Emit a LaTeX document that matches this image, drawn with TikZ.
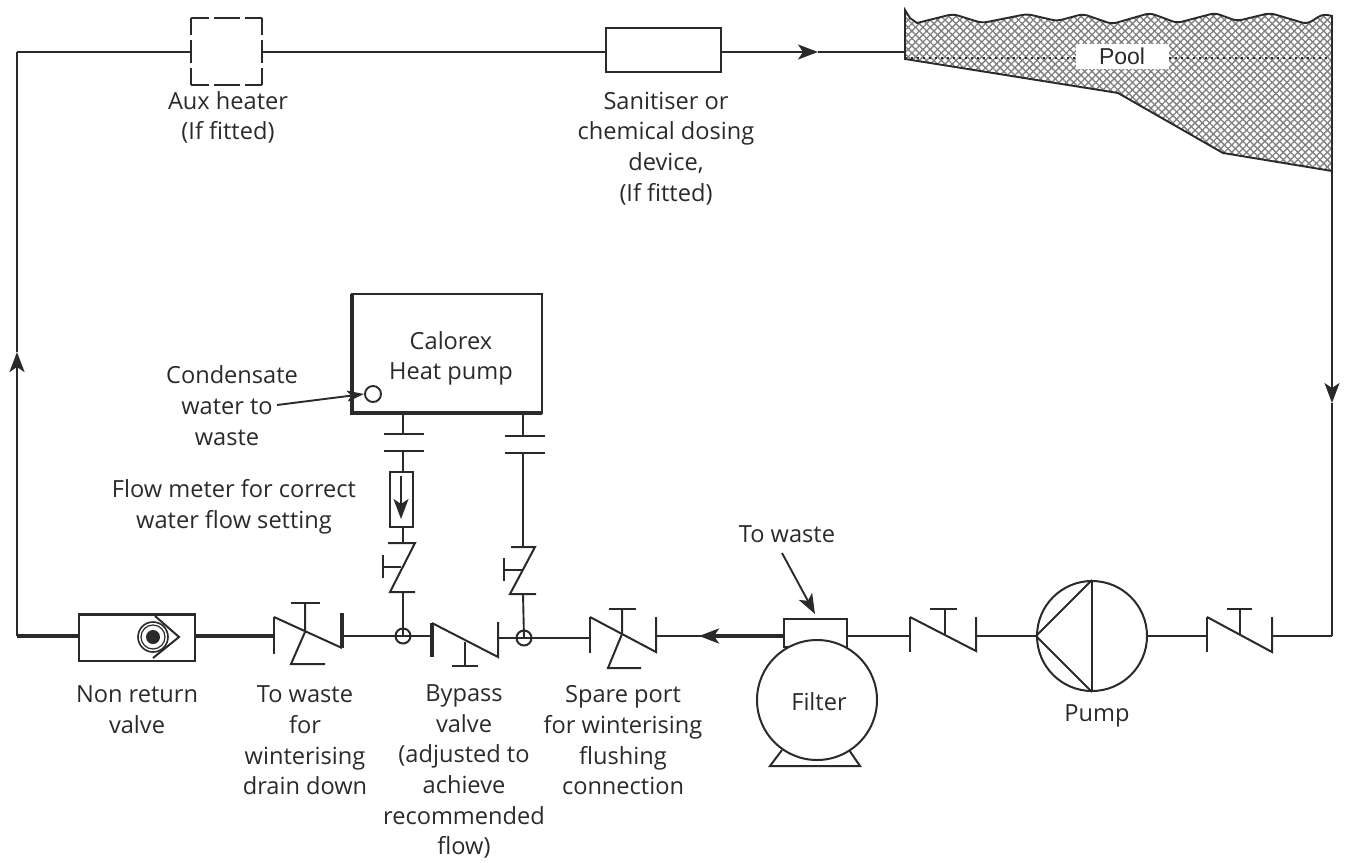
\documentclass[tikz,border=0pt]{standalone}
\usepackage{fontspec}
\setmainfont{Open Sans}
\newfontfamily\poolfont{Liberation Sans}
\usetikzlibrary{arrows.meta,patterns.meta}
\definecolor{ink}{HTML}{2a2a2a}
\tikzset{
  pipe/.style={draw=ink,line width=1.9pt},
  thickpipe/.style={draw=ink,line width=3.4pt},
  valve/.style={draw=ink,line width=2pt},
  heavy/.style={draw=ink,line width=3.2pt},
  label/.style={text=ink,align=center,inner sep=0pt,font=\fontsize{23.6}{30.7}\selectfont},
  flow/.style={-{Stealth[length=20pt,width=15pt,inset=5pt]}},
  joint/.style={circle,draw=ink,line width=2pt,minimum size=15pt,inner sep=0pt},
  boxnode/.style={draw=ink,line width=1.9pt,inner sep=0pt}
}
\begin{document}
\begin{tikzpicture}[x=1pt,y=-1pt,line join=miter]
\useasboundingbox (0,0) rectangle (1348,862);
% pool
\coordinate (poolL) at (905,52);
\coordinate (poolR) at (1332,171);
\def\poolwave{(905,10) -- (910,18) -- (917,23) [rounded corners=5pt] -- (953,14) -- (982,23) -- (1027,14) -- (1057,21) -- (1083,14) -- (1112,24) -- (1150,13) -- (1177,23) -- (1215,13) -- (1237,21) -- (1270,13) -- (1307,24) -- (1323,14) [sharp corners] -- (1332,16)}
\def\poolpath{\poolwave -- (1332,171) -- (1223,153) -- (1118,93) -- (905,59) -- cycle}
\fill[pattern={Lines[angle=45,distance=5.2pt,line width=1.35pt]},pattern color=black!50] \poolpath;
\fill[pattern={Lines[angle=-45,distance=5.2pt,line width=1.35pt]},pattern color=black!50] \poolpath;
\draw[draw=ink,line width=1.9pt] \poolpath;
\draw[ink,line width=2.2pt,dash pattern=on 2pt off 4pt] (905,58) -- (1332,58);
\node[fill=white,minimum width=93pt,minimum height=25pt,inner sep=0pt,font=\poolfont\fontsize{23}{25}\selectfont,text=ink] (pool) at (1122,56) {Pool};
% aux heater
\coordinate (auxL) at (191,52);
\coordinate (auxR) at (262,52);
\draw[valve,line width=2.4pt,dash pattern=on 18pt off 5pt on 26pt off 5pt on 18pt] (191,18) -- (262,18);
\draw[valve,line width=2.4pt,dash pattern=on 18pt off 5pt on 26pt off 5pt on 18pt] (191,85) -- (262,85);
\draw[valve,line width=2.4pt,dash pattern=on 17pt off 5pt on 23pt off 5pt on 17pt] (191,18) -- (191,85);
\draw[valve,line width=2.8pt,dash pattern=on 17pt off 5pt on 23pt off 5pt on 17pt] (262,18) -- (262,85);
% sanitiser
\node[boxnode,minimum width=115pt,minimum height=44pt] (san) at (663.5,50) {};
% heat pump
\node[boxnode,minimum width=190pt,minimum height=119pt,align=center] (hp) at (447,353.5) {};
\draw[heavy] (352,294) -- (352,413) -- (542,413);
\node[label] at (451,358.5) {Calorex\\Heat pump};
\node[circle,draw=ink,line width=1.9pt,minimum size=16pt,inner sep=0pt] (drain) at (373,394) {};
% top and left pipes
\coordinate (cL) at (17,636);
\coordinate (cT) at (17,52);
\coordinate (aL) at (17,352);
\coordinate (aT) at (818,52);
\coordinate (aR) at (1332,403);
\coordinate (cB) at (1332,636);
\draw[pipe,flow] (san.east |- aT) -- (aT);
\draw[pipe] (aT) -- (poolL);
\draw[pipe] (auxR) -- (san.west |- auxR);
\draw[pipe] (cT) -- (auxL);
\draw[thickpipe,line width=2.8pt] (cT) -- (aL);
\draw[thickpipe,line width=2.8pt,flow] (cL) -- (aL);
\draw[pipe,flow] (poolR) -- (aR);
\draw[pipe] (aR) -- (cB);
% non return valve
\node[boxnode,minimum width=116pt,minimum height=47pt] (nrv) at (137,637.5) {};
\draw[draw=ink,line width=2.8pt] (79,614.5) -- (195,614.5);
\node[circle,draw=ink,line width=1.6pt,minimum size=30pt,inner sep=0pt] (nrc) at (153,637) {};
\node[circle,draw=ink,line width=1.2pt,minimum size=24pt,inner sep=0pt] at (153,637) {};
\node[circle,fill=ink,minimum size=14pt,inner sep=0pt] at (153,637) {};
\draw[valve] (155,616) -- (179,637) -- (153,658);
\draw[thickpipe] (cL) -- (nrv.west |- cL);
% main valves: v1
\coordinate (v1L) at (274,636);\coordinate (v1R) at (342,636);
\draw[valve] (274,617) -- (274,654);
\draw[valve] (274,617) -- (342,648);
\draw[heavy] (342,613) -- (342,648);
\draw[valve] (291,603) -- (320,603);
\draw[valve] (305,603) -- (305,632) -- (291,664) -- (325,664);
\draw[thickpipe] (nrv.east |- v1L) -- (v1L);
% junctions
\node[joint] (j1) at (403,636) {};
\node[joint] (j2) at (524,638) {};
\draw[pipe] (v1R) -- (j1.center);
% bypass
\coordinate (byL) at (432,636);\coordinate (byR) at (498,638);
\draw[heavy] (432,623) -- (432,657);
\draw[valve] (432,623) -- (498,657) -- (498,622);
\draw[valve] (465,642) -- (465,666);
\draw[valve] (452,666) -- (478,666);
\draw[pipe] (j1.center) -- (byL);
\draw[pipe] (byR) -- (j2.center);
% spare port valve
\coordinate (v3L) at (590,638);\coordinate (v3R) at (656,636);
\draw[valve] (590,617) -- (590,653);
\draw[valve] (590,617) -- (656,652) -- (656,617);
\draw[valve] (609,609) -- (636,609);
\draw[valve] (622,609) -- (622,634) -- (608,668) -- (641,668);
\draw[pipe] (j2.center) -- (v3L);
% filter
\node[boxnode,minimum width=63pt,minimum height=28pt] (ftop) at (815.5,633) {};
\node[circle,draw=ink,fill=white,line width=2pt,minimum size=120pt,inner sep=0pt] (filter) at (817,700) {};
\node[label] at (819,702) {Filter};
\draw[valve] (782,750) -- (770,766) -- (860,766) -- (849,750);
\coordinate (fa) at (699,636);
\coordinate (fb) at (722,636);
\draw[pipe] (v3R) -- (fb);
\draw[thickpipe,flow] (ftop.west |- fa) -- (fa);
% to waste arrow
\coordinate (twA) at (782,553);
\coordinate (twB) at (815,614);
\draw[draw=ink,line width=1.9pt,flow] (twA) -- (twB);
\node[label] (towaste) at (787,534.5) {To waste};
% v4
\coordinate (v4L) at (910,636);\coordinate (v4R) at (976,636);
\draw[heavy,line width=2.8pt] (910,617) -- (910,652);
\draw[valve] (910,617) -- (976,651) -- (976,617);
\draw[valve] (930,609) -- (957,609);
\draw[heavy,line width=2.8pt] (945,609) -- (945,634);
\draw[pipe] (ftop.east |- v4L) -- (v4L);
% pump
\node[circle,draw=ink,line width=2pt,minimum size=110pt,inner sep=0pt] (pump) at (1092,636) {};
\draw[draw=ink,line width=2.8pt] (pump.north) -- (pump.south);
\draw[valve] (pump.north) -- (pump.west) -- (pump.south);
\draw[pipe] (v4R) -- (pump.west);
\node[label] at (1097,716) {Pump};
% v5
\coordinate (v5L) at (1207,636);\coordinate (v5R) at (1272,636);
\draw[valve] (1207,617) -- (1207,652);
\draw[valve] (1207,617) -- (1272,652) -- (1272,617);
\draw[valve] (1227,609) -- (1252,609);
\draw[valve] (1240,609) -- (1240,634);
\draw[pipe] (pump.east) -- (v5L);
\draw[pipe] (v5R) -- (cB);
% branch left
\coordinate (hL) at (403,413);
\coordinate (hLb) at (403,434);
\coordinate (hLc) at (403,451);
\draw[heavy,line width=2.8pt] (hL) -- (hLb);
\draw[valve] (384,434) -- (424,434);
\draw[valve] (384,451) -- (424,451);
\node[boxnode,minimum width=23pt,minimum height=55pt] (fm) at (401.5,499.5) {};
\draw[pipe] (hLc) -- (hLc |- fm.north);
\coordinate (fmA) at (401,476);
\coordinate (fmB) at (401,519);
\draw[pipe,flow] (fmA) -- (fmB);
\coordinate (v6T) at (403,543);
\coordinate (v6B) at (403,592);
\draw[pipe] (v6T |- fm.south) -- (v6T);
\draw[valve] (388,543) -- (415,543) -- (390,592) -- (415,592);
\draw[valve] (401,567) -- (383,567);
\draw[valve] (383,555) -- (383,578);
\draw[pipe] (v6B) -- (j1.center);
% branch right
\coordinate (hR) at (523,413);
\coordinate (hRb) at (523,436);
\coordinate (hRc) at (523,453);
\draw[pipe] (hR) -- (hRb);
\draw[valve] (505,436) -- (545,436);
\draw[valve] (505,453) -- (545,453);
\coordinate (v7T) at (523,547);
\coordinate (v7B) at (523,594);
\draw[pipe] (hRc) -- (v7T);
\draw[heavy,line width=2.6pt] (hRc) -- (523,470);
\draw[valve] (511,547) -- (535,547) -- (510,594) -- (536,594);
\draw[valve] (522,570) -- (504,570);
\draw[valve] (504,558) -- (504,581);
\draw[pipe] (v7B) -- (j2.center);
% labels
\node[label] at (228,117.5) {Aux heater\\(If fitted)};
\node[label] at (666,148.5) {Sanitiser or\\chemical dosing\\device,\\(If fitted)};
\node[label] (cond) at (232,375) {Condensate};
\node[label] (cond2) at (227,422) {water to\\waste};
\coordinate (condA) at (277,405);
\draw[draw=ink,line width=1.9pt,-{Stealth[length=17pt,width=11pt,inset=4pt]}] (condA) -- (drain.west);
\node[label] at (234,507) {Flow meter for correct\\water flow setting};
\node[label] at (137,709.5) {Non return\\valve};
\node[label] at (305,740.5) {To waste\\for\\winterising\\drain down};
\node[label] at (464,771.5) {Bypass\\valve\\(adjusted to\\achieve\\recommended\\flow)};
\node[label] at (623,740.5) {Spare port\\for winterising\\flushing\\connection};
\end{tikzpicture}
\end{document}
